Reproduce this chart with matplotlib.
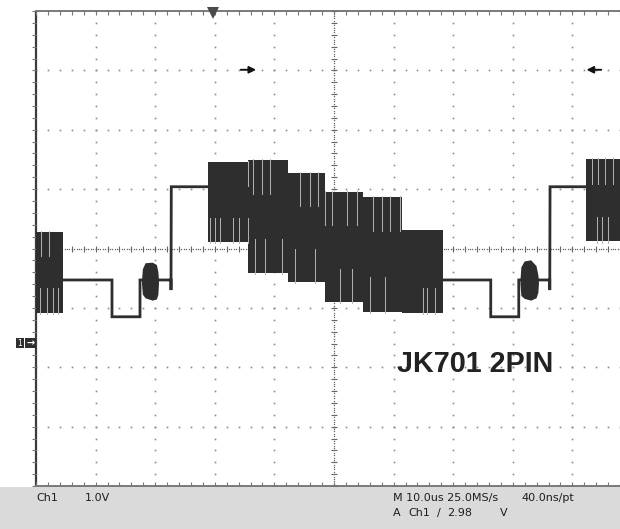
import numpy as np
import matplotlib.pyplot as plt
from matplotlib.patches import Rectangle

W, H = 620, 529

# Ch1 trace, time in us from the left screen edge, level in volts above the ch1 ground
trace_t = [4.5, 12.75, 12.75, 17.45, 17.45, 22.65, 22.65, 22.7, 28.9, np.nan,
           68.3, 76.3, 76.3, 81.0, 81.0, 86.2, 86.2, 86.25, 92.3]
trace_v = [1.06, 1.06, 0.44, 0.44, 1.06, 1.06, 0.89, 2.63, 2.63, np.nan,
           1.06, 1.06, 0.44, 0.44, 1.06, 1.06, 0.89, 2.63, 2.63]

# data bursts (square envelopes): start, end, top, bottom
burst_t0 = [0.0, 28.86, 35.57, 42.28, 48.49, 54.87, 61.41, 92.28]
burst_t1 = [4.53, 35.57, 42.28, 48.49, 54.87, 61.41, 68.29, 100.0]
burst_hi = [1.87, 3.05, 3.08, 2.86, 2.54, 2.46, 1.90, 3.10]
burst_lo = [0.51, 1.70, 1.18, 1.03, 0.69, 0.52, 0.51, 1.71]

# light aliasing streaks inside the bursts, cut in from the top or bottom edge
streak_top = [0.9, 2.1, 35.5, 36.4, 37.9, 39.3, 44.3, 46.0, 47.3, 48.5, 49.7, 52.2,
              53.9, 56.5, 58.1, 59.4, 61.1, 93.3, 94.3, 95.5, 96.8]
streak_bot = [0.7, 1.8, 2.9, 3.7, 29.2, 30.0, 30.9, 33.1, 34.1, 35.5, 36.7, 38.4,
              41.3, 43.5, 46.8, 51.0, 53.0, 56.0, 58.6, 64.9, 65.6, 66.9, 94.1, 95.0, 96.0]

# short rounded bursts on the idle level
small1_t = [17.7, 17.85, 18.3, 19.5, 20.2, 20.45, 20.55]
small1_hi = [1.06, 1.25, 1.35, 1.36, 1.32, 1.20, 1.06]
small1_lo = [1.00, 0.82, 0.76, 0.72, 0.74, 0.82, 1.00]
small2_t = [81.2, 81.35, 81.9, 83.0, 83.9, 84.2, 84.3]
small2_hi = [1.06, 1.28, 1.38, 1.40, 1.30, 1.15, 1.06]
small2_lo = [1.00, 0.80, 0.75, 0.72, 0.76, 0.85, 1.00]

us_per_div = 10.0
v_per_div = 1.0
gnd_offset = 1.59  # ground marker position below screen centre, divisions

fig = plt.figure(figsize=(W / 100, H / 100), dpi=100)
fig.patch.set_facecolor('white')


def fx(x):
    return x / W


def fy(y):
    return 1 - y / H


# status bar under the graticule
fig.patches.append(Rectangle((0, 0), 1, fy(487), transform=fig.transFigure,
                             facecolor='#dadada', edgecolor='none', zorder=0))

ax = fig.add_axes([fx(36), fy(486), 596 / W, 475 / H])
ax.set_axis_off()
x0, x1 = 0, 10 * us_per_div
y0 = (-4 + gnd_offset) * v_per_div
y1 = (4 + gnd_offset) * v_per_div
ax.set_xlim(x0, x1)
ax.set_ylim(y0, y1)

dot = '#8c8c8c'
# dotted graticule
for k in range(1, 10):
    if k == 5:
        continue
    ys = np.linspace(y0, y1, 41)
    ax.plot(np.full_like(ys, k * us_per_div), ys, ls='none', marker='s',
            ms=1.2, mew=0, color=dot)
for k in range(1, 8):
    if k == 4:
        continue
    xs = np.linspace(x0, x1, 51)
    ax.plot(xs, np.full_like(xs, y0 + k * v_per_div), ls='none', marker='s',
            ms=1.2, mew=0, color=dot)

# centre cross with fine dots and minor ticks
xc = 5 * us_per_div
yc = y0 + 4 * v_per_div
ys = np.linspace(y0, y1, 201)
ax.plot(np.full_like(ys, xc), ys, ls='none', marker='s', ms=0.9, mew=0, color='#666666')
ax.plot(np.full_like(ys[::5], xc), ys[::5], ls='none', marker='_', ms=4, mew=0.8, color='#666666')
xs = np.linspace(x0, x1, 251)
ax.plot(xs, np.full_like(xs, yc), ls='none', marker='s', ms=0.9, mew=0, color='#666666')
ax.plot(xs[::5], np.full_like(xs[::5], yc), ls='none', marker='|', ms=4, mew=0.8, color='#666666')

# frame and edge ticks
ax.plot([x0, x0], [y0, y1], color='#3c3c3c', lw=1.6, solid_capstyle='butt', clip_on=False)
ax.plot([x0, x1], [y1, y1], color='#6e6e6e', lw=1.3, clip_on=False)
ax.plot([x0, x1], [y0, y0], color='#6e6e6e', lw=1.3, clip_on=False)
xt = np.linspace(x0, x1, 51)
ax.plot(xt, np.full_like(xt, y1), ls='none', marker=3, ms=3, mew=0.8, color='#777777', clip_on=False)
ax.plot(xt, np.full_like(xt, y0), ls='none', marker=2, ms=3, mew=0.8, color='#777777', clip_on=False)
yt = np.linspace(y0, y1, 41)
ax.plot(np.full_like(yt, x0), yt, ls='none', marker=0, ms=3, mew=0.8, color='#777777', clip_on=False)

trace = '#2e2e2e'
ax.plot(trace_t, trace_v, color=trace, lw=2.0, solid_joinstyle='miter', zorder=5)

for t0, t1, hi, lo in zip(burst_t0, burst_t1, burst_hi, burst_lo):
    ax.fill_between([t0, t1], [lo, lo], [hi, hi], color=trace, lw=0, zorder=6)
for st, shi, slo in ((small1_t, small1_hi, small1_lo), (small2_t, small2_hi, small2_lo)):
    ax.fill_between(st, slo, shi, color=trace, lw=0, zorder=6)


def burst_at(t):
    for t0, t1, hi, lo in zip(burst_t0, burst_t1, burst_hi, burst_lo):
        if t0 <= t < t1:
            return hi, lo
    return None


for t in streak_top:
    hi, lo = burst_at(t)
    ax.plot([t, t], [hi + 0.02, hi - 0.3 * (hi - lo)], color='#b4b4b4', lw=0.7, zorder=7)
for t in streak_bot:
    hi, lo = burst_at(t)
    ax.plot([t, t], [lo - 0.02, lo + 0.3 * (hi - lo)], color='#b4b4b4', lw=0.7, zorder=7)

# trigger position marker and record arrows
ax.plot([29.7], [y1 - 0.04], marker='v', ms=9, color='#4a4a4a', mew=0, clip_on=False, zorder=8)
ax.annotate('', xy=(37.4, 4.60), xytext=(33.9, 4.60),
            arrowprops=dict(arrowstyle='-|>', color='#111111', lw=1.4, mutation_scale=10))
ax.annotate('', xy=(91.9, 4.60), xytext=(95.3, 4.60),
            arrowprops=dict(arrowstyle='-|>', color='#111111', lw=1.4, mutation_scale=10))

# channel 1 ground marker
fig.patches.append(Rectangle((fx(16), fy(348)), fx(24) - fx(16), fy(338) - fy(348),
                             transform=fig.transFigure, facecolor='#2f2f2f', edgecolor='none'))
fig.patches.append(Rectangle((fx(25), fy(348)), fx(36) - fx(25), fy(338) - fy(348),
                             transform=fig.transFigure, facecolor='#2f2f2f', edgecolor='none'))
fig.text(fx(20), fy(343), '1', color='white', fontsize=5.5, ha='center', va='center')
fig.text(fx(30.5), fy(343), '\u2192', color='white', fontsize=7, ha='center', va='center',
         fontweight='bold')

fig.text(fx(397), fy(372), 'JK701 2PIN', family='Liberation Sans', fontweight='bold',
         fontsize=20.7, color='#222222', va='baseline', ha='left')

# readouts in the status bar
ro = dict(family='DejaVu Sans', fontsize=8, color='#1e1e1e', va='center', ha='left')
fig.text(fx(36), fy(498), 'Ch1', **ro)
fig.text(fx(85), fy(498), '1.0V', **ro)
fig.text(fx(393), fy(498), 'M 10.0us 25.0MS/s', **ro)
fig.text(fx(521), fy(498), '40.0ns/pt', **ro)
fig.text(fx(393), fy(513), 'A', **ro)
fig.text(fx(408), fy(513), 'Ch1', **ro)
fig.text(fx(437), fy(513), '\u2215', **ro)
fig.text(fx(447), fy(513), '2.98', **ro)
fig.text(fx(500), fy(513), 'V', **ro)

fig.savefig('out.png', dpi=100)
